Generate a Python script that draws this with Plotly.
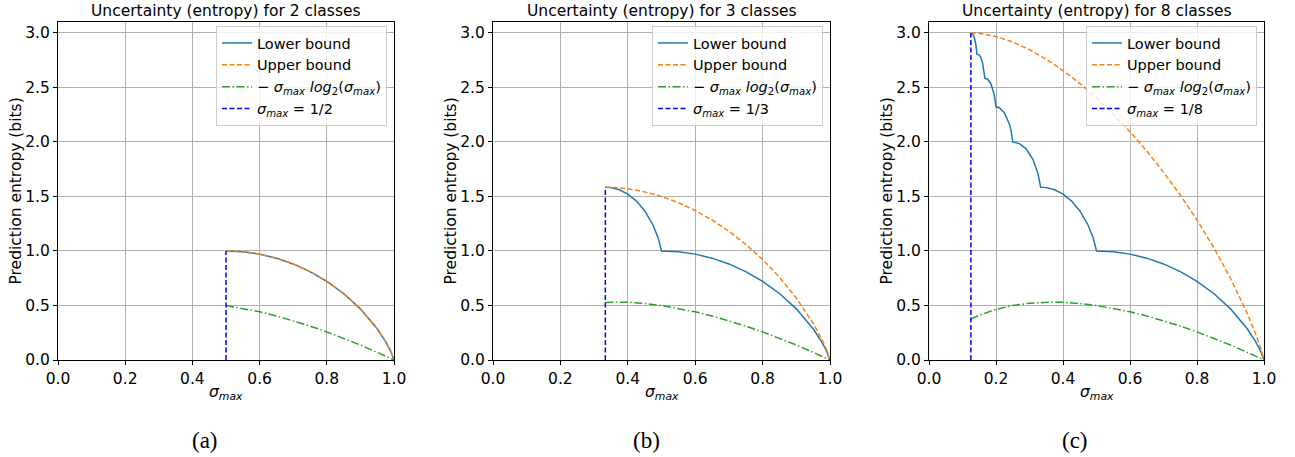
import plotly.graph_objects as go

# ---------------- data ----------------
# Panel (a): 2 classes
x2 = [0.5, 0.525, 0.55, 0.6, 0.65, 0.7, 0.75, 0.8, 0.85, 0.9, 0.95, 0.975, 0.99, 1.0]
lower2 = [1.0, 0.998, 0.993, 0.971, 0.934, 0.881, 0.811, 0.722, 0.610, 0.469, 0.286, 0.169, 0.081, 0.0]
upper2 = [1.0, 0.998, 0.993, 0.971, 0.934, 0.881, 0.811, 0.722, 0.610, 0.469, 0.286, 0.169, 0.081, 0.0]
green2_x = [0.5, 0.55, 0.6, 0.65, 0.7, 0.75, 0.8, 0.85, 0.9, 0.95, 1.0]
green2 = [0.5, 0.474, 0.442, 0.404, 0.360, 0.311, 0.258, 0.199, 0.137, 0.070, 0.0]
vline2 = 0.5
vtop2 = 1.0

# Panel (b): 3 classes
x3_low = [0.3333, 0.35, 0.375, 0.4, 0.425, 0.45, 0.475, 0.49, 0.5,
          0.525, 0.55, 0.6, 0.65, 0.7, 0.75, 0.8, 0.85, 0.9, 0.95, 0.975, 0.99, 1.0]
lower3 = [1.585, 1.581, 1.561, 1.522, 1.460, 1.369, 1.236, 1.122, 1.0,
          0.998, 0.993, 0.971, 0.934, 0.881, 0.811, 0.722, 0.610, 0.469, 0.286, 0.169, 0.081, 0.0]
x3_up = [0.3333, 0.35, 0.4, 0.45, 0.5, 0.55, 0.6, 0.65, 0.7, 0.75, 0.8, 0.85, 0.9, 0.95, 0.975, 0.99, 1.0]
upper3 = [1.585, 1.584, 1.571, 1.542, 1.5, 1.443, 1.371, 1.284, 1.181, 1.061, 0.922, 0.760, 0.569, 0.336, 0.194, 0.091, 0.0]
green3_x = [0.3333, 0.35, 0.3679, 0.4, 0.45, 0.5, 0.55, 0.6, 0.65, 0.7, 0.75, 0.8, 0.85, 0.9, 0.95, 1.0]
green3 = [0.528, 0.530, 0.531, 0.529, 0.518, 0.5, 0.474, 0.442, 0.404, 0.360, 0.311, 0.258, 0.199, 0.137, 0.070, 0.0]
vline3 = 0.3333
vtop3 = 1.585

# Panel (c): 8 classes
x8_low = [0.125, 0.13, 0.135, 0.14, 0.1429,
          0.15, 0.155, 0.16, 0.1667,
          0.175, 0.185, 0.195, 0.2,
          0.21, 0.225, 0.24, 0.245, 0.25,
          0.27, 0.29, 0.31, 0.325, 0.3333,
          0.35, 0.375, 0.4, 0.425, 0.45, 0.475, 0.49, 0.5,
          0.525, 0.55, 0.6, 0.65, 0.7, 0.75, 0.8, 0.85, 0.9, 0.95, 0.975, 0.99, 1.0]
lower8 = [3.0, 2.991, 2.960, 2.893, 2.807,
          2.796, 2.771, 2.724, 2.585,
          2.575, 2.532, 2.432, 2.322,
          2.314, 2.269, 2.163, 2.101, 2.0,
          1.985, 1.937, 1.841, 1.714, 1.585,
          1.581, 1.561, 1.522, 1.460, 1.369, 1.236, 1.122, 1.0,
          0.998, 0.993, 0.971, 0.934, 0.881, 0.811, 0.722, 0.610, 0.469, 0.286, 0.169, 0.081, 0.0]
x8_up = [0.125, 0.15, 0.2, 0.25, 0.3, 0.35, 0.4, 0.45, 0.5, 0.55, 0.6, 0.65, 0.7, 0.75,
         0.8, 0.85, 0.9, 0.95, 0.975, 0.99, 1.0]
upper8 = [3.0, 2.997, 2.967, 2.917, 2.846, 2.759, 2.655, 2.537, 2.404, 2.256, 2.094, 1.917, 1.723, 1.513,
          1.284, 1.031, 0.750, 0.427, 0.239, 0.113, 0.0]
green8_x = [0.125, 0.15, 0.2, 0.25, 0.3, 0.35, 0.3679, 0.4, 0.45, 0.5, 0.55, 0.6, 0.65, 0.7, 0.75,
            0.8, 0.85, 0.9, 0.95, 1.0]
green8 = [0.375, 0.411, 0.464, 0.5, 0.521, 0.530, 0.531, 0.529, 0.518, 0.5, 0.474, 0.442, 0.404, 0.360, 0.311,
          0.258, 0.199, 0.137, 0.070, 0.0]
vline8 = 0.125
vtop8 = 3.0

titles = ["Uncertainty (entropy) for 2 classes",
          "Uncertainty (entropy) for 3 classes",
          "Uncertainty (entropy) for 8 classes"]
vlabels = ["1/2", "1/3", "1/8"]
captions = ["(a)", "(b)", "(c)"]
xticks = [0.0, 0.2, 0.4, 0.6, 0.8, 1.0]
yticks = [0.0, 0.5, 1.0, 1.5, 2.0, 2.5, 3.0]

# ---------------- styling ----------------
W, H = 1295, 457
BLUE, ORANGE, GREEN, VBLUE = "#1f77b4", "#ff7f0e", "#2ca02c", "#0000ff"
FONT = "DejaVu Sans"
panels_px = [(58, 394), (493, 830), (929, 1264)]
caption_px = [205, 646, 1075]
y_top_px, y_bot_px = 22, 360

panels = [
    (x2, lower2, x2, upper2, green2_x, green2, vline2, vtop2),
    (x3_low, lower3, x3_up, upper3, green3_x, green3, vline3, vtop3),
    (x8_low, lower8, x8_up, upper8, green8_x, green8, vline8, vtop8),
]

fig = go.Figure()
layout = dict(
    width=W, height=H, margin=dict(l=0, r=0, t=0, b=0, autoexpand=False),
    paper_bgcolor="white", plot_bgcolor="white",
    font=dict(family=FONT, size=15, color="black"),
    annotations=[],
)

smax = "<i>σ<sub>max</sub></i>"
for i, (xl, yl, xu, yu, xg, yg, xv, yv) in enumerate(panels):
    n = "" if i == 0 else str(i + 1)
    xa, ya = "x" + n, "y" + n
    leg = "legend" + n
    fig.add_trace(go.Scatter(x=xl, y=yl, mode="lines", name="Lower bound",
                             line=dict(color=BLUE, width=1.5), xaxis=xa, yaxis=ya, legend=leg))
    fig.add_trace(go.Scatter(x=xu, y=yu, mode="lines", name="Upper bound",
                             line=dict(color=ORANGE, width=1.5, dash="5px,2.5px"), xaxis=xa, yaxis=ya, legend=leg))
    fig.add_trace(go.Scatter(x=xg, y=yg, mode="lines",
                             name="− " + smax + " <i>log</i><sub>2</sub>(" + smax + ")",
                             line=dict(color=GREEN, width=1.5, dash="8px,2.5px,1.5px,2.5px"),
                             xaxis=xa, yaxis=ya, legend=leg))
    fig.add_trace(go.Scatter(x=[xv, xv], y=[0, yv], mode="lines",
                             name=smax + " = " + vlabels[i],
                             line=dict(color=VBLUE, width=1.5, dash="5px,2.5px"), xaxis=xa, yaxis=ya, legend=leg))

    x0, x1 = panels_px[i]
    dom_x = [x0 / W, x1 / W]
    dom_y = [1 - y_bot_px / H, 1 - y_top_px / H]
    axcommon = dict(showline=True, linecolor="black", linewidth=1, mirror=True,
                    ticks="outside", ticklen=4, tickcolor="black", tickwidth=1,
                    showgrid=True, gridcolor="#b0b0b0", gridwidth=1, zeroline=False,
                    automargin=False, tickfont=dict(size=15.5, family=FONT))
    layout["xaxis" + n] = dict(domain=dom_x, range=[0, 1], tickvals=xticks,
                               ticktext=[f"{v:.1f}" for v in xticks], anchor=ya, **axcommon)
    layout["yaxis" + n] = dict(domain=dom_y, range=[0, 3.1], tickvals=yticks,
                               ticktext=[f"{v:.1f}" for v in yticks], anchor=xa, **axcommon)
    layout[leg] = dict(x=(x1 - 7) / W, y=1 - 26 / H, xanchor="right", yanchor="top",
                       bgcolor="rgba(255,255,255,0.8)", bordercolor="#cccccc", borderwidth=1,
                       font=dict(size=14.5, family=FONT), tracegroupgap=0, itemwidth=30)
    cx = (x0 + x1) / 2
    ann = layout["annotations"]
    ann.append(dict(text=titles[i], x=cx / W, y=1 - 11 / H, xref="paper", yref="paper",
                    showarrow=False, xanchor="center", yanchor="middle",
                    font=dict(size=15.5, family=FONT)))
    ann.append(dict(text=smax, x=cx / W, y=1 - 393 / H, xref="paper", yref="paper",
                    showarrow=False, xanchor="center", yanchor="middle",
                    font=dict(size=15.5, family=FONT)))
    ann.append(dict(text="Prediction entropy (bits)", x=(x0 - 42.5) / W,
                    y=1 - (y_top_px + y_bot_px) / 2 / H, xref="paper", yref="paper",
                    showarrow=False, xanchor="center", yanchor="middle", textangle=-90,
                    font=dict(size=15.5, family=FONT)))
    ann.append(dict(text=captions[i], x=caption_px[i] / W, y=1 - 440 / H, xref="paper", yref="paper",
                    showarrow=False, xanchor="center", yanchor="middle",
                    font=dict(size=23, family="Liberation Serif")))

fig.update_layout(**layout)
fig.write_html("out.html")
